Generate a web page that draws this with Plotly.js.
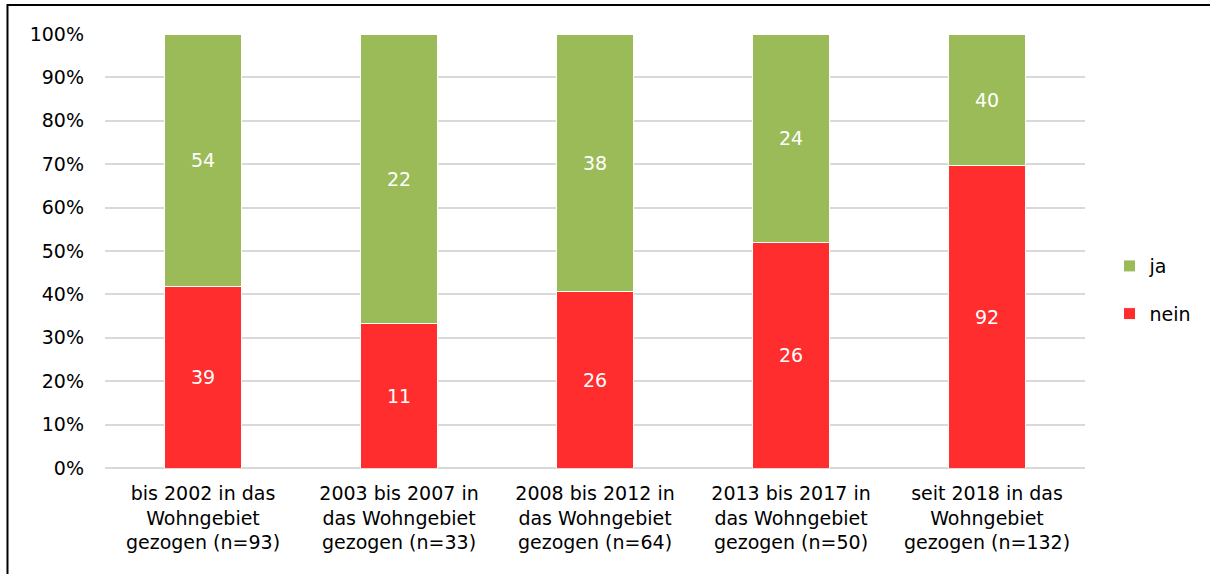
<!DOCTYPE html>
<html><head><meta charset="utf-8">
<script src="https://cdn.plot.ly/plotly-3.0.1.min.js"></script>
<style>html,body{margin:0;padding:0;background:#fff;}#chart{width:1210px;height:574px;}</style>
</head><body><div id="chart"></div>
<script>
const categories = [
  "bis 2002 in das<br>Wohngebiet<br>gezogen (n=93)",
  "2003 bis 2007 in<br>das Wohngebiet<br>gezogen (n=33)",
  "2008 bis 2012 in<br>das Wohngebiet<br>gezogen (n=64)",
  "2013 bis 2017 in<br>das Wohngebiet<br>gezogen (n=50)",
  "seit 2018 in das<br>Wohngebiet<br>gezogen (n=132)"
];
const nein = [39, 11, 26, 26, 92];
const ja = [54, 22, 38, 24, 40];
const yTicks = [0,10,20,30,40,50,60,70,80,90,100];

const FONT = "DejaVu Sans, sans-serif";
const common = {
  type: 'bar', x: categories,
  textposition: 'inside', insidetextanchor: 'middle',
  textfont: {color: '#ffffff', size: 19, family: FONT},
  hoverinfo: 'skip'
};
const data = [
  Object.assign({}, common, {name: 'nein', y: nein, text: nein.map(String), legendgroup: 'nein', legendrank: 2,
    marker: {color: '#FF2D2D', line: {color: '#ffffff', width: 1}}}),
  Object.assign({}, common, {name: 'ja', y: ja, text: ja.map(String), legendgroup: 'ja', legendrank: 1,
    marker: {color: '#9BBB59', line: {color: '#ffffff', width: 1}}})
];
const layout = {
  width: 1210, height: 574,
  margin: {l: 105, r: 125, t: 34, b: 106, autoexpand: false},
  barmode: 'stack', barnorm: 'percent', bargap: 0.61,
  paper_bgcolor: '#ffffff', plot_bgcolor: '#ffffff',
  font: {family: FONT, color: '#000000', size: 19},
  xaxis: {showline: false, ticks: '', tickfont: {size: 19, family: FONT}, automargin: false, ticklabelstandoff: 12},
  yaxis: {range: [0, 100], tickvals: yTicks, ticktext: yTicks.map(v => v + '%'),
    showgrid: true, gridcolor: '#d9d9d9', gridwidth: 2, zeroline: true, zerolinecolor: '#d9d9d9', zerolinewidth: 2,
    tickfont: {size: 19, family: FONT}, ticks: '', ticklen: 0, automargin: false, ticklabelstandoff: 20},
  showlegend: true,
  legend: {x: 1.025, y: 0.41, xanchor: 'left', yanchor: 'middle', traceorder: 'grouped',
    tracegroupgap: 20, font: {size: 19, family: FONT}},
  shapes: [{type: 'rect', xref: 'paper', yref: 'paper', x0: -0.0995, x1: 1.14, y0: -0.27, y1: 1.0668,
    line: {color: '#000000', width: 2}}]
};
Plotly.newPlot('chart', data, layout, {displayModeBar: false, staticPlot: true});
</script></body></html>
